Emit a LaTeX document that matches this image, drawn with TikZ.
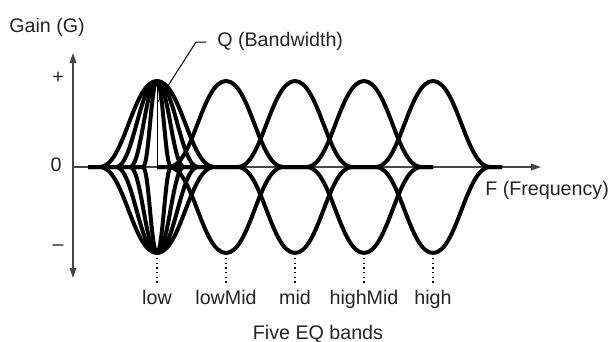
\documentclass[tikz,border=0pt]{standalone}
\usepackage{fontspec}
\setmainfont{Liberation Sans}
\usepackage{xcolor}
\definecolor{axisgray}{RGB}{70, 70, 70}
\definecolor{textgray}{RGB}{35, 35, 35}
\usetikzlibrary{arrows.meta, positioning}

\begin{document}
\begin{tikzpicture}[x=0.6pt, y=0.6pt, >={Triangle[length=6pt, width=4pt]},
    axis/.style={axisgray, line width=0.9pt},
    band/.style={line width=2.4pt, line join=round},
    guide/.style={dotted, line width=0.8pt},
    lbl/.style={font=\fontsize{11.8}{14}\selectfont, text=textgray, inner sep=0pt}]
    \useasboundingbox (0,-174) rectangle (609,167);
    % axes
    \coordinate (origin) at (73,0);
    \coordinate (gtop) at (73,114);
    \coordinate (gbot) at (73,-111);
    \coordinate (fend) at (541,0);
    \draw[axis, <->] (gbot) -- (gtop);
    \draw[axis, ->] (origin) -- (fend);
    \node[lbl, anchor=base west] (gain) at (9,135) {Gain (G)};
    \node[lbl, anchor=base west] (freq) at (485,-28) {F (Frequency)};
    \node[lbl] (plus) at (58,89) {+};
    \node[lbl] (zero) at (56,2) {0};
    \node[lbl] (minus) at (58,-81) {--};
    % low band, four Q settings
    \foreach \w in {57,41,27,14} {
        \foreach \a in {86,-86}
            \draw[band] (157-\w-12,0) -- (157-\w,0)
                .. controls (157-0.58*\w,0) and (157-0.42*\w,\a) .. (157,\a)
                .. controls (157+0.42*\w,\a) and (157+0.58*\w,0) .. (157+\w,0)
                -- (157+\w+12,0);
    }
    \coordinate (lowtop) at (157,86);
    \coordinate (lowbase) at (157,0);
    \draw[line width=0.6pt] (lowbase) -- (lowtop);
    % the other bands
    \foreach \c in {226,295,364,433} {
        \foreach \a in {86,-86}
            \draw[band] (\c-69,0) -- (\c-57,0)
                .. controls (\c-33,0) and (\c-24,\a) .. (\c,\a)
                .. controls (\c+24,\a) and (\c+33,0) .. (\c+57,0)
                -- (\c+69,0);
    }
    % band names
    \foreach \c/\name in {157/low,226/lowMid,295/mid,364/highMid,433/high} {
        \coordinate (\name top) at (\c,-91);
        \node[lbl, anchor=base] (\name) at (\c,-137) {\name};
        \draw[guide] (\name top) -- ++(0,-25);
    }
    \node[lbl, anchor=base] (bands) at (318,-172) {Five EQ bands};
    % Q leader
    \coordinate (qfoot) at (157,64);
    \coordinate (qbend) at (196,125);
    \node[lbl, anchor=base west, inner xsep=6.6pt] (qlabel) at (206,121) {Q (Bandwidth)};
    \draw[line width=0.6pt] (qfoot) -- (qbend) -- (qbend -| qlabel.west);
\end{tikzpicture}
\end{document}
